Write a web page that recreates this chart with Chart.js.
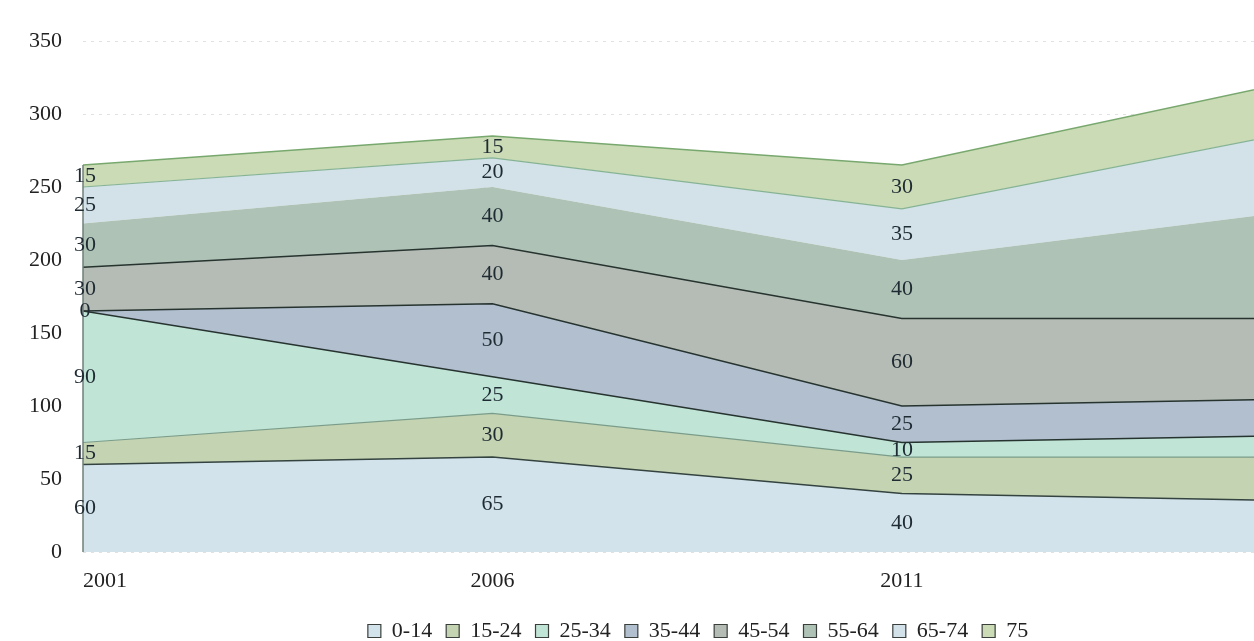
<!DOCTYPE html>
<html>
<head>
<meta charset="utf-8">
<title>Population by age group</title>
<script src="https://cdn.jsdelivr.net/npm/chart.js@4.4.1/dist/chart.umd.min.js"></script>
<style>
  html, body { margin: 0; padding: 0; background: #fff; }
  #wrap { width: 1254px; height: 641px; }
</style>
</head>
<body>
<div id="wrap"><canvas id="ageChart"></canvas></div>
<script>
// Data (the last year runs off the right edge of the picture)
const years = [2001, 2006, 2011, 2016];
const xTickLabels = ['2001', '2006', '2011'];
const xMax = 2015.3;
const ageGroups = ['0-14', '15-24', '25-34', '35-44', '45-54', '55-64', '65-74', '75'];
const age0to14 = [60, 65, 40, 35];
const age15to24 = [15, 30, 25, 30];
const age25to34 = [90, 25, 10, 15];
const age35to44 = [0, 50, 25, 25];
const age45to54 = [30, 40, 60, 55];
const age55to64 = [30, 40, 40, 75];
const age65to74 = [25, 20, 35, 55];
const age75 = [15, 15, 30, 35];
const yTicks = [0, 50, 100, 150, 200, 250, 300, 350];

const seriesValues = [age0to14, age15to24, age25to34, age35to44, age45to54, age55to64, age65to74, age75];
const fillColors = ['#d2e3ec', '#c4d4b2', '#c0e5d7', '#b1bfcf', '#b5bcb5', '#aec2b6', '#d3e2e9', '#cadbb5'];
const lineColors = ['#34433f', '#7a9c8a', '#26332f', '#26332f', '#26332f', 'rgba(0,0,0,0)', '#86b394', '#78a86e'];
const lineWidths = [1.5, 1.2, 1.5, 1.5, 1.5, 0, 1.2, 1.5];

const serif = '"Liberation Serif", "Times New Roman", serif';
Chart.defaults.font.family = serif;
Chart.defaults.font.size = 22;
Chart.defaults.color = '#222';

const datasets = ageGroups.map((name, i) => ({
  label: name,
  data: years.map((yr, j) => ({ x: yr, y: seriesValues[i][j] })),
  backgroundColor: fillColors[i],
  borderColor: lineColors[i],
  borderWidth: lineWidths[i],
  fill: i === 0 ? 'origin' : '-1',
  pointRadius: 0,
  tension: 0
}));

// Values written in the middle of each band, plus the left drop line
const valueLabels = {
  id: 'valueLabels',
  afterDatasetsDraw(chart) {
    const ctx = chart.ctx;
    const xs = chart.scales.x;
    const ys = chart.scales.y;
    ctx.save();
    let firstTotal = 0;
    chart.data.datasets.forEach(ds => { firstTotal += ds.data[0].y; });
    ctx.strokeStyle = '#6f7f78';
    ctx.lineWidth = 1.5;
    ctx.beginPath();
    ctx.moveTo(xs.getPixelForValue(years[0]), ys.getPixelForValue(0));
    ctx.lineTo(xs.getPixelForValue(years[0]), ys.getPixelForValue(firstTotal));
    ctx.stroke();

    ctx.font = '22px ' + serif;
    ctx.fillStyle = '#1f2b33';
    ctx.textAlign = 'center';
    ctx.textBaseline = 'middle';
    years.forEach((yr, j) => {
      if (yr > xs.max) return;
      let base = 0;
      chart.data.datasets.forEach(ds => {
        const v = ds.data[j].y;
        ctx.fillText(String(v), xs.getPixelForValue(yr) + (j === 0 ? 2 : 0), ys.getPixelForValue(base + v / 2));
        base += v;
      });
    });
    ctx.restore();
  }
};

// The legend sits a little right of centre and lower in the original
const legendShift = {
  id: 'legendShift',
  afterLayout(chart) {
    const lg = chart.legend;
    lg.left += 71;
    lg.right += 71;
    lg.top += 11;
    lg.bottom += 11;
  }
};

new Chart(document.getElementById('ageChart'), {
  type: 'line',
  data: { datasets: datasets },
  options: {
    responsive: true,
    maintainAspectRatio: false,
    animation: false,
    layout: { padding: { top: 41, left: 0, right: 0, bottom: 0 } },
    plugins: {
      legend: {
        position: 'bottom',
        labels: {
          boxWidth: 13,
          boxHeight: 13,
          padding: 14,
          color: '#222',
          font: { size: 22, family: serif },
          generateLabels(chart) {
            const items = Chart.defaults.plugins.legend.labels.generateLabels(chart);
            items.forEach(it => { it.strokeStyle = '#3a3f3c'; it.lineWidth = 1.2; });
            return items;
          }
        }
      },
      tooltip: { enabled: false }
    },
    scales: {
      x: {
        type: 'linear',
        min: years[0],
        max: xMax,
        grid: { display: false },
        border: { display: false },
        afterBuildTicks(scale) {
          scale.ticks = [2001, 2006, 2011, xMax].map(v => ({ value: v }));
        },
        afterFit(scale) {
          scale.height = 43;
          scale.paddingLeft = 0;
          scale.paddingRight = 0;
        },
        ticks: {
          autoSkip: false,
          maxRotation: 0,
          align: 'inner',
          padding: 8,
          color: '#222',
          callback: (v) => {
            const k = years.indexOf(v);
            return k >= 0 && k < xTickLabels.length ? xTickLabels[k] : '';
          }
        }
      },
      y: {
        stacked: true,
        min: 0,
        max: 350,
        afterBuildTicks(scale) {
          scale.ticks = yTicks.map(v => ({ value: v }));
        },
        afterFit(scale) { scale.width = 83; },
        grid: { color: 'rgba(110,120,130,0.22)', drawTicks: false },
        border: { display: false, dash: [3, 5] },
        ticks: { padding: 21, color: '#222' }
      }
    }
  },
  plugins: [valueLabels, legendShift]
});
</script>
</body>
</html>
